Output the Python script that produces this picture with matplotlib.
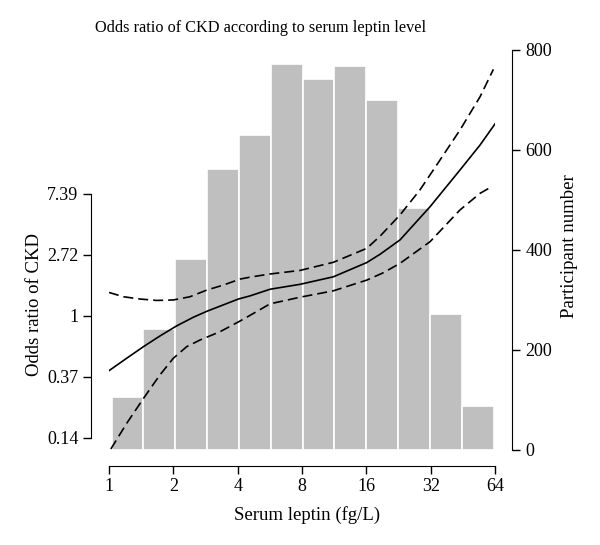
import numpy as np
import matplotlib
matplotlib.use("Agg")
import matplotlib.pyplot as plt

plt.rcParams['font.family'] = ['Liberation Serif', 'DejaVu Serif']

# histograma de participantes (bordes de clase en fg/L)
bin_edges = [1.03, 1.45, 2.04, 2.88, 4.06, 5.71, 8.05, 11.35, 15.99, 22.5, 31.7, 44.7, 63.0]
counts = [106, 243, 382, 561, 629, 771, 741, 767, 699, 483, 272, 88]

# curva OR ajustada
leptin_fit = [1.00, 1.21, 1.45, 1.73, 2.07, 2.48, 2.87, 3.43, 4.03, 4.57, 5.67, 7.83,
              11.21, 16.07, 18.55, 23.0, 31.8, 43.9, 54.5, 64.0]
or_fit = [0.408, 0.500, 0.605, 0.720, 0.849, 0.979, 1.08, 1.20, 1.32, 1.39, 1.55, 1.68,
          1.90, 2.40, 2.75, 3.48, 6.00, 10.95, 16.5, 23.3]

# limite superior IC
leptin_up = [1.00, 1.17, 1.40, 1.67, 2.00, 2.39, 2.87, 3.43, 4.10, 4.57, 5.67, 7.83,
             11.21, 16.07, 18.55, 23.0, 28.5, 35.4, 43.9, 54.5, 62.9]
or_up = [1.47, 1.37, 1.32, 1.29, 1.30, 1.37, 1.53, 1.66, 1.83, 1.89, 1.99, 2.11,
         2.41, 3.03, 3.70, 5.24, 7.89, 12.9, 21.1, 36.4, 57.0]

# limite inferior IC
leptin_lo = [1.02, 1.21, 1.45, 1.73, 2.00, 2.31, 2.67, 3.31, 4.10, 4.57, 5.67, 7.83,
             11.21, 16.07, 19.2, 23.0, 31.8, 43.9, 54.5, 60.6]
or_lo = [0.113, 0.172, 0.259, 0.380, 0.500, 0.605, 0.675, 0.773, 0.92, 1.01, 1.22, 1.36,
         1.51, 1.80, 2.03, 2.37, 3.38, 5.69, 7.47, 8.19]

x_ticks = [1, 2, 4, 8, 16, 32, 64]
or_tick_labels = ['0.14', '0.37', '1', '2.72', '7.39']
count_ticks = [0, 200, 400, 600, 800]

fig = plt.figure(figsize=(6, 5.45), dpi=100)
ax = fig.add_axes([109/600, 95/545, 386/600, 400/545])
axh = ax.twinx()

# barras (eje derecho)
axh.bar(bin_edges[:-1], counts, width=np.diff(bin_edges), align='edge',
        color='#BFBFBF', edgecolor='white', linewidth=1.2)
axh.set_ylim(0, 800)
axh.set_yticks(count_ticks)
axh.set_yticklabels([str(c) for c in count_ticks])
axh.set_ylabel('Participant number', fontsize=13.5, va='top')
axh.yaxis.set_label_coords(1.172, 0.51)
for s in ['left', 'top', 'bottom']:
    axh.spines[s].set_visible(False)
axh.spines['right'].set_position(('outward', 12.2))
axh.tick_params(axis='y', direction='out', length=5.5, width=1, labelsize=13, pad=4)

# curvas (eje izquierdo)
ax.set_zorder(axh.get_zorder() + 1)
ax.patch.set_visible(False)
ax.plot(leptin_fit, or_fit, color='black', lw=1.2)
ax.plot(leptin_up, or_up, color='black', lw=1.2, dashes=(6, 3))
ax.plot(leptin_lo, or_lo, color='black', lw=1.2, dashes=(6, 3))

ax.set_xscale('log', base=2)
ax.set_yscale('log', base=np.e)
ax.set_xlim(1, 64)
axh.set_xlim(1, 64)
ax.set_ylim(np.exp(-2.197), np.exp(4.36))
ax.set_xticks(x_ticks)
ax.set_xticklabels([str(t) for t in x_ticks])
ax.set_yticks(np.exp([-2, -1, 0, 1, 2]))
ax.set_yticklabels(or_tick_labels)
ax.minorticks_off()
axh.minorticks_off()

for s in ['right', 'top']:
    ax.spines[s].set_visible(False)
ax.spines['left'].set_position(('outward', 13))
ax.spines['left'].set_bounds(np.exp(-2), np.exp(2))
ax.spines['bottom'].set_position(('outward', 11.5))
ax.tick_params(axis='both', direction='out', length=5.5, width=1, labelsize=13)
ax.set_xlabel('Serum leptin (fg/L)', fontsize=13.5)
ax.xaxis.set_label_coords(0.513, -0.14)
ax.set_ylabel('Odds ratio of CKD', fontsize=13.5)
ax.yaxis.set_label_coords(-0.171, 0.365)

fig.text(261/600, 1 - 28/545, 'Odds ratio of CKD according to serum leptin level',
         ha='center', va='center', fontsize=11.7)

fig.savefig('out.png', dpi=100)
